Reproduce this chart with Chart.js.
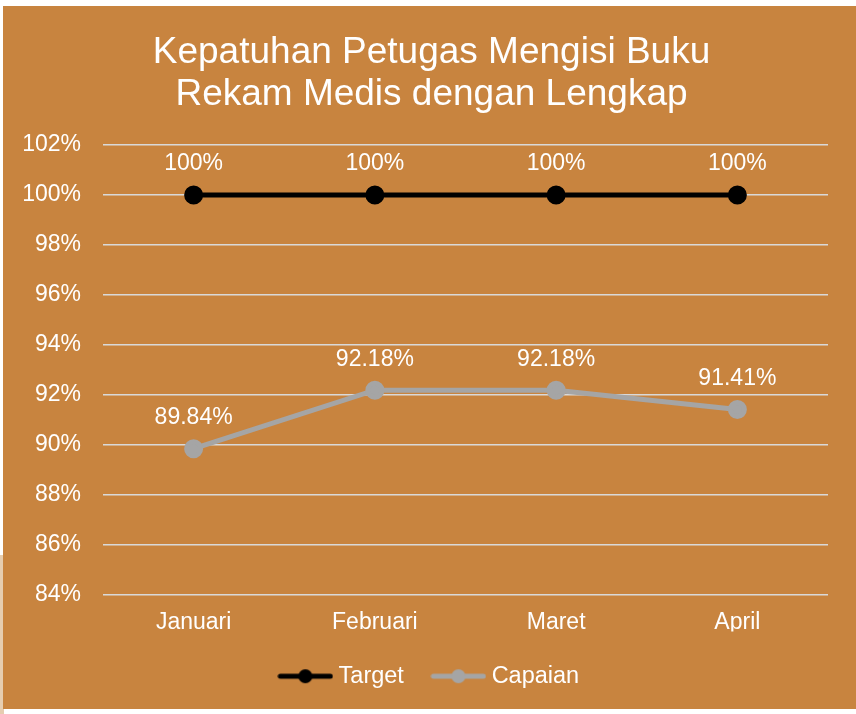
<!DOCTYPE html>
<html>
<head>
<meta charset="utf-8">
<script src="https://cdn.jsdelivr.net/npm/chart.js@4.4.0/dist/chart.umd.min.js"></script>
<style>
  html, body { margin: 0; padding: 0; background: #fff; }
  body { width: 856px; height: 714px; position: relative; overflow: hidden; }
  #edge { position: absolute; left: 0; top: 555px; width: 4px; height: 159px; background: #e6cdb0; }
  #wrap { position: absolute; left: 3px; top: 6px; width: 853px; height: 703px; background: #c8843f; }
</style>
</head>
<body>
<div id="edge"></div>
<div id="wrap"><canvas id="myChart" width="853" height="703"></canvas></div>
<script>
const months = ['Januari', 'Februari', 'Maret', 'April'];
const target = [100, 100, 100, 100];
const capaian = [89.84, 92.18, 92.18, 91.41];
const yTicks = [84, 86, 88, 90, 92, 94, 96, 98, 100, 102];

const FONT = 'Liberation Sans, Arial, sans-serif';

// little line + dot used as legend marker
const legendMark = (color) => {
  const c = document.createElement('canvas');
  c.width = 56; c.height = 16;
  const g = c.getContext('2d');
  g.strokeStyle = color;
  g.lineWidth = 5;
  g.lineCap = 'round';
  g.beginPath(); g.moveTo(3, 8); g.lineTo(53, 8); g.stroke();
  g.fillStyle = color;
  g.beginPath(); g.arc(28, 8, 7, 0, Math.PI * 2); g.fill();
  return c;
};

const valueLabels = {
  id: 'valueLabels',
  afterDatasetsDraw(chart) {
    const ctx = chart.ctx;
    ctx.save();
    ctx.fillStyle = '#ffffff';
    ctx.font = '23px ' + FONT;
    ctx.textAlign = 'center';
    ctx.textBaseline = 'middle';
    chart.data.datasets.forEach((ds, i) => {
      chart.getDatasetMeta(i).data.forEach((pt, j) => {
        const v = ds.data[j];
        const txt = (v === 100 ? '100' : v.toFixed(2)) + '%';
        ctx.fillText(txt, pt.x, pt.y - 31);
      });
    });
    ctx.restore();
  }
};

const ctx = document.getElementById('myChart').getContext('2d');
new Chart(ctx, {
  type: 'line',
  data: {
    labels: months,
    datasets: [
      {
        label: 'Target',
        data: target,
        borderColor: '#000000',
        backgroundColor: '#000000',
        borderWidth: 5,
        pointRadius: 7,
        fill: false,
      },
      {
        label: 'Capaian',
        data: capaian,
        borderColor: '#a5a5a5',
        backgroundColor: '#a5a5a5',
        borderWidth: 5,
        pointRadius: 7,
        fill: false,
      },
    ],
  },
  options: {
    responsive: false,
    animation: false,
    layout: { padding: { left: 4, right: 0, top: 0, bottom: 11 } },
    plugins: {
      tooltip: { enabled: false },
      title: {
        display: true,
        text: ['Kepatuhan Petugas Mengisi Buku', 'Rekam Medis dengan Lengkap'],
        color: '#ffffff',
        font: { family: FONT, size: 37, weight: 'normal', lineHeight: 1.135 },
        padding: { top: 26, bottom: 29 },
      },
      legend: {
        position: 'bottom',
        labels: {
          color: '#ffffff',
          font: { family: FONT, size: 23.5 },
          usePointStyle: true,
          pointStyleWidth: 43,
          padding: 33,
          generateLabels: (chart) => chart.data.datasets.map((ds, i) => ({
            text: ds.label,
            fontColor: '#ffffff',
            pointStyle: legendMark(ds.borderColor),
            datasetIndex: i,
            hidden: false,
          })),
        },
      },
    },
    scales: {
      x: {
        offset: true,
        afterFit: (s) => { s.height = 37; },
        grid: { display: false, drawTicks: false },
        border: { display: false },
        ticks: { color: '#ffffff', font: { family: FONT, size: 23 }, padding: 14 },
      },
      y: {
        min: 84,
        max: 102,
        afterFit: (s) => { s.width = 96; },
        afterBuildTicks: (s) => { s.ticks = yTicks.map((v) => ({ value: v })); },
        grid: { color: '#d9d9d9', lineWidth: 1.5, drawTicks: false },
        border: { display: false },
        ticks: {
          color: '#ffffff',
          font: { family: FONT, size: 23 },
          padding: 22,
          callback: (v) => v + '%',
        },
      },
      // empty strip on the right so the plot ends where the original does
      yRight: {
        position: 'right',
        afterFit: (s) => { s.width = 28; },
        grid: { display: false, drawTicks: false },
        border: { display: false },
        ticks: { display: false },
      },
    },
  },
  plugins: [valueLabels],
});
</script>
</body>
</html>
